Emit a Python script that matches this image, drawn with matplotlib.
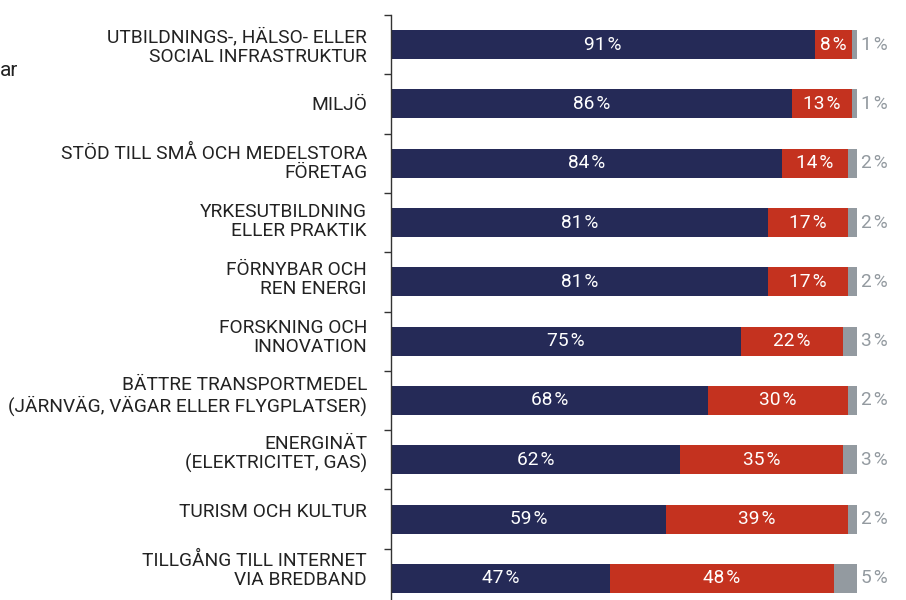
import matplotlib
matplotlib.use("Agg")
import matplotlib.pyplot as plt
from matplotlib.ticker import FixedLocator
from matplotlib.transforms import blended_transform_factory

categories = [
    "UTBILDNINGS-, HÄLSO- ELLER\nSOCIAL INFRASTRUKTUR",
    "MILJÖ",
    "STÖD TILL SMÅ OCH MEDELSTORA\nFÖRETAG",
    "YRKESUTBILDNING\nELLER PRAKTIK",
    "FÖRNYBAR OCH\nREN ENERGI",
    "FORSKNING OCH\nINNOVATION",
    "BÄTTRE TRANSPORTMEDEL\n(JÄRNVÄG, VÄGAR ELLER FLYGPLATSER)",
    "ENERGINÄT\n(ELEKTRICITET, GAS)",
    "TURISM OCH KULTUR",
    "TILLGÅNG TILL INTERNET\nVIA BREDBAND",
]
navy_vals = [91, 86, 84, 81, 81, 75, 68, 62, 59, 47]
red_vals = [8, 13, 14, 17, 17, 22, 30, 35, 39, 48]
gray_vals = [1, 1, 2, 2, 2, 3, 2, 3, 2, 5]

NAVY = "#252a57"
RED = "#c4321f"
GRAY = "#939aa0"

plt.rcParams['font.family'] = ['Roboto', 'DejaVu Sans']

fig = plt.figure(figsize=(9.06, 6.0), dpi=100)
ax = fig.add_axes([391/906, -8/600, 466/906, 593/600])

y = list(range(len(categories)))
h = 0.49
ax.barh(y, navy_vals, height=h, color=NAVY, linewidth=0)
left2 = navy_vals
ax.barh(y, red_vals, left=left2, height=h, color=RED, linewidth=0)
left3 = [a + b for a, b in zip(navy_vals, red_vals)]
ax.barh(y, gray_vals, left=left3, height=h, color=GRAY, linewidth=0)

fs = 13.8
for i in y:
    ax.text(navy_vals[i] / 2, i, f"{navy_vals[i]}\u200a%", color="white",
            ha="center", va="center", fontsize=fs)
    ax.text(navy_vals[i] + red_vals[i] / 2, i, f"{red_vals[i]}\u200a%", color="white",
            ha="center", va="center", fontsize=fs)
    ax.text(left3[i] + gray_vals[i] + 0.8, i, f"{gray_vals[i]}\u200a%", color=GRAY,
            ha="left", va="center", fontsize=fs, clip_on=False)

ax.set_xlim(0, 100)
ax.set_ylim(9.5, -0.5)
ax.set_xticks([])
ax.set_yticks(y)
ax.set_yticklabels([])
trans = blended_transform_factory(ax.transAxes, ax.transData)
for i, lab in enumerate(categories):
    ax.text(-24/466, i * 0.980 + 0.042, lab, transform=trans, ha="right", va="center",
            multialignment="right", fontsize=13.8, linespacing=1.1, color="#222222",
            clip_on=False)
ax.yaxis.set_minor_locator(FixedLocator([i - 0.5 for i in range(len(categories) + 1)]))
ax.tick_params(axis="y", which="major", length=0)
ax.tick_params(axis="y", which="minor", length=5, width=1, color="#333333")
for s in ["top", "right", "bottom"]:
    ax.spines[s].set_visible(False)
ax.spines["left"].set_color("#333333")
ax.spines["left"].set_linewidth(1)

fig.text(0.0, 1 - 70/600, "ar", fontsize=15, ha="left", va="center", color="#222222")

fig.savefig("out.png", dpi=100)
